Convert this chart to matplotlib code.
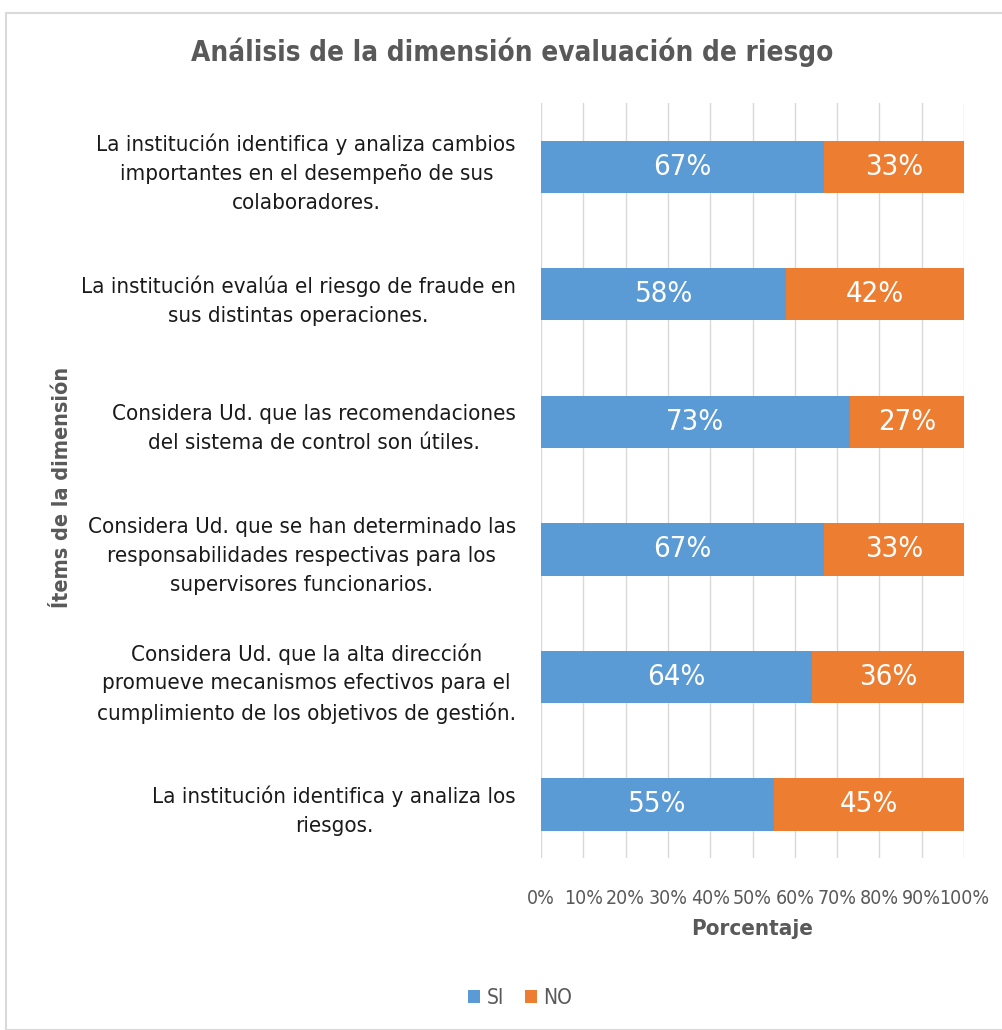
import matplotlib.pyplot as plt
import matplotlib
from matplotlib.patches import Rectangle

matplotlib.rcParams['font.family'] = ['DejaVu Sans']
matplotlib.rcParams['font.stretch'] = 'condensed'

# data (top to bottom)
items = [
    'La institución identifica y analiza cambios\nimportantes en el desempeño de sus\ncolaboradores.',
    'La institución evalúa el riesgo de fraude en\nsus distintas operaciones.',
    'Considera Ud. que las recomendaciones\ndel sistema de control son útiles.',
    'Considera Ud. que se han determinado las\nresponsabilidades respectivas para los\nsupervisores funcionarios.',
    'Considera Ud. que la alta dirección\npromueve mecanismos efectivos para el\ncumplimiento de los objetivos de gestión.',
    'La institución identifica y analiza los\nriesgos.',
]
si = [67, 58, 73, 67, 64, 55]
no = [33, 42, 27, 33, 36, 45]
ticks = list(range(0, 101, 10))

blue = '#5B9BD5'
orange = '#ED7D31'
grey = '#595959'

fig = plt.figure(figsize=(10.03, 10.30), dpi=100)
ax = fig.add_axes([541/1003, 1 - 858/1030, 423/1003, 755/1030])

pos = list(range(len(items)))
b1 = ax.barh(pos, si, height=0.41, color=blue, label='SI', zorder=3)
b2 = ax.barh(pos, no, left=si, height=0.41, color=orange, label='NO', zorder=3)

for bars, vals, lefts in [(b1, si, [0]*len(si)), (b2, no, si)]:
    for bar, v, l in zip(bars, vals, lefts):
        ax.text(l + v / 2, bar.get_y() + bar.get_height() / 2, f'{v}%',
                ha='center', va='center', color='white', fontsize=21, zorder=4)

ax.set_xlim(0, 100)
ax.set_ylim(5.42, -0.5)
ax.set_xticks(ticks)
ax.set_xticklabels([f'{t}%' for t in ticks], fontsize=14, color=grey)
ax.set_yticks(pos)
ax.set_yticklabels(items, fontsize=16, color='#1a1a1a', multialignment='center',
                   linespacing=1.55)
ax.tick_params(length=0, pad=18)
ax.tick_params(axis='x', pad=22)
ax.grid(axis='x', color='#D9D9D9', linewidth=1, zorder=0)
for s in ax.spines.values():
    s.set_visible(False)

ax.set_xlabel('Porcentaje', fontsize=16, fontweight='bold', color=grey, labelpad=8)
fig.text(62/1003, 1 - 487/1030, 'Ítems de la dimensión', rotation=90, fontsize=15.5,
         fontweight='bold', color=grey, ha='center', va='center')

fig.text(512/1003, 1 - 52/1030, 'Análisis de la dimensión evaluación de riesgo',
         fontsize=20, fontweight='bold', color=grey, ha='center', va='center')

fig.legend(loc='center', bbox_to_anchor=(520/1003, 1 - 998/1030), ncol=2, frameon=False,
           fontsize=15, handlelength=0.6, handleheight=0.6, columnspacing=1.0,
           handletextpad=0.3, labelcolor=grey)

fig.patches.append(Rectangle((6/1003, 0), 1, 1 - 13/1030, transform=fig.transFigure,
                             fill=False, edgecolor='#D9D9D9', linewidth=1.5))

plt.savefig('out.png', dpi=100)
